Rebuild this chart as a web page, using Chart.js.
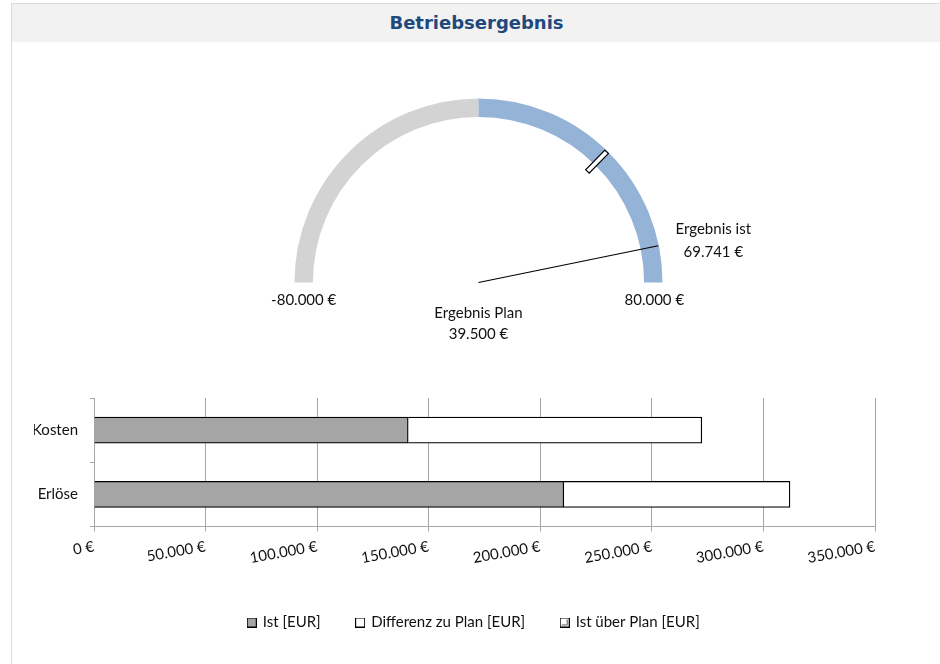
<!DOCTYPE html>
<html>
<head>
<meta charset="utf-8">
<script src="https://cdn.jsdelivr.net/npm/chart.js@4.4.1/dist/chart.umd.min.js"></script>
<style>
  html, body { margin: 0; padding: 0; background: #fff; width: 940px; height: 664px; overflow: hidden; }
  #frame { position: absolute; left: 11px; top: 3px; width: 929px; height: 661px; border-top: 1px solid #dcdcdc; border-left: 1px solid #dcdcdc; }
  #titleband { position: absolute; left: 0; top: 0; width: 929px; height: 38px; background: #f2f2f2;
    font-family: "DejaVu Sans", sans-serif; font-weight: bold; font-size: 18px; color: #1f497d;
    text-align: center; line-height: 38px; }
  #gaugeWrap { position: absolute; left: 0; top: 0; width: 940px; height: 380px; }
  #barWrap { position: absolute; left: 0; top: 380px; width: 940px; height: 284px; }
</style>
</head>
<body>
<div id="frame"><div id="titleband">Betriebsergebnis</div></div>
<div id="gaugeWrap"><canvas id="gauge" width="940" height="380"></canvas></div>
<div id="barWrap"><canvas id="bars" width="940" height="284"></canvas></div>
<script>
// ---------- data ----------
const gaugeMin = -80000;
const gaugeMax = 80000;
const gaugeSegmentLabels = ['Negativ', 'Positiv'];
const gaugeSegmentValues = [80000, 80000];
const ergebnisIst = 69741;
const ergebnisPlan = 39500;

const categories = ['Kosten', 'Erlöse'];
const istValues = [140800, 210541];
const diffValues = [131600, 101359];
const ueberPlanValues = [0, 0];
const xTickMin = 0;
const xTickMax = 350000;
const xTickStep = 50000;

const FONT = 'Lato, "Open Sans", sans-serif';
const TXT = '#111111';
const FS = 15;

function fmtEuro(n) {
  const s = Math.abs(Math.round(n)).toString().replace(/\B(?=(\d{3})+(?!\d))/g, '.');
  return (n < 0 ? '-' : '') + s + ' €';
}

Chart.defaults.font.family = FONT;
Chart.defaults.color = TXT;
Chart.defaults.animation = false;

// ---------- gauge ----------
const gaugePlugin = {
  id: 'gaugeMarks',
  afterDatasetsDraw(chart) {
    const meta = chart.getDatasetMeta(0);
    const first = meta.data[0], last = meta.data[meta.data.length - 1];
    const cx = first.x, cy = first.y;
    const rIn = first.innerRadius, rOut = first.outerRadius;
    const a0 = first.startAngle, a1 = last.endAngle;
    const ang = v => a0 + (v - gaugeMin) / (gaugeMax - gaugeMin) * (a1 - a0);
    const ctx = chart.ctx;
    ctx.save();
    // needle (Ist)
    const ai = ang(ergebnisIst);
    const ex = cx + Math.cos(ai) * (rOut - 0.5), ey = cy + Math.sin(ai) * (rOut - 0.5);
    ctx.strokeStyle = '#000';
    ctx.lineWidth = 1.2;
    ctx.beginPath();
    ctx.moveTo(cx, cy);
    ctx.lineTo(ex, ey);
    ctx.stroke();
    // plan marker
    const ap = ang(ergebnisPlan);
    ctx.translate(cx, cy);
    ctx.rotate(ap);
    ctx.fillStyle = '#fff';
    ctx.lineWidth = 1.2;
    ctx.beginPath();
    ctx.rect(rIn - 10, -2.5, (rOut - 1) - (rIn - 10), 5);
    ctx.fill();
    ctx.stroke();
    ctx.setTransform(1, 0, 0, 1, 0, 0);
    // labels
    ctx.fillStyle = TXT;
    ctx.font = FS + 'px ' + FONT;
    ctx.textAlign = 'center';
    ctx.textBaseline = 'middle';
    const mid = (rIn + rOut) / 2;
    ctx.fillText(fmtEuro(gaugeMin), cx - mid, cy + 18);
    ctx.fillText(fmtEuro(gaugeMax), cx + mid + 1, cy + 18);
    ctx.fillText('Ergebnis Plan', cx, cy + 31);
    ctx.fillText(fmtEuro(ergebnisPlan), cx, cy + 52);
    ctx.fillText('Ergebnis ist', ex + 55, ey - 17);
    ctx.fillText(fmtEuro(ergebnisIst), ex + 55, ey + 6);
    ctx.restore();
  }
};

new Chart(document.getElementById('gauge'), {
  type: 'doughnut',
  data: {
    labels: gaugeSegmentLabels,
    datasets: [{
      data: gaugeSegmentValues,
      backgroundColor: ['#d3d3d3', '#95b3d7'],
      borderWidth: 0
    }]
  },
  options: {
    responsive: false,
    rotation: -90,
    circumference: 180,
    cutout: '90%',
    layout: { padding: { left: 294.5, right: 277.5, top: 98.5, bottom: 97.5 } },
    plugins: { legend: { display: false }, tooltip: { enabled: false } }
  },
  plugins: [gaugePlugin]
});

// ---------- bars ----------
function legendIcon(kind) {
  const c = document.createElement('canvas');
  c.width = 10; c.height = 10;
  const g = c.getContext('2d');
  g.fillStyle = kind === 'ist' ? '#a5a5a5' : '#fff';
  g.fillRect(0.5, 0.5, 9, 9);
  g.strokeStyle = '#000';
  g.lineWidth = 1;
  g.strokeRect(0.5, 0.5, 9, 9);
  if (kind === 'ueber') {
    g.strokeStyle = '#555';
    g.beginPath();
    g.moveTo(2, 7.5); g.lineTo(7.5, 7.5); g.lineTo(7.5, 2);
    g.stroke();
  }
  return c;
}
const icons = [legendIcon('ist'), legendIcon('diff'), legendIcon('ueber')];

const xTickValues = [];
for (let v = xTickMin; v <= xTickMax; v += xTickStep) xTickValues.push(v);

const legendShift = {
  id: 'legendShift',
  afterLayout(chart) {
    const lg = chart.legend;
    if (lg) { lg.left = 0; lg.right = 948; lg.width = 948; }
  }
};

new Chart(document.getElementById('bars'), {
  type: 'bar',
  data: {
    labels: categories,
    datasets: [
      { label: 'Ist [EUR]', data: istValues, backgroundColor: '#a5a5a5', borderColor: '#000', borderWidth: 1.3, barThickness: 26, pointStyle: icons[0] },
      { label: 'Differenz zu Plan [EUR]', data: diffValues, backgroundColor: '#ffffff', borderColor: '#000', borderWidth: 1.3, barThickness: 26, pointStyle: icons[1] },
      { label: 'Ist über Plan [EUR]', data: ueberPlanValues, backgroundColor: '#ffffff', borderColor: '#000', borderWidth: 1.3, barThickness: 26, pointStyle: icons[2] }
    ]
  },
  options: {
    responsive: false,
    indexAxis: 'y',
    layout: { padding: { left: 34, right: 65, top: 18, bottom: 24 } },
    scales: {
      x: {
        stacked: true,
        min: xTickMin, max: xTickMax,
        afterBuildTicks: s => { s.ticks = xTickValues.map(v => ({ value: v })); },
        afterFit: s => { s.height = 52.5; },
        grid: { color: '#a6a6a6', lineWidth: 1, drawTicks: true, tickLength: 5, tickColor: '#a6a6a6' },
        border: { color: '#a6a6a6', width: 1 },
        ticks: {
          font: { size: FS }, color: TXT, minRotation: 10, maxRotation: 10, padding: 6,
          autoSkip: false,
          callback: v => fmtEuro(v)
        }
      },
      y: {
        stacked: true,
        afterFit: s => { s.width = 60; s.paddingTop = 0; s.paddingBottom = 0; },
        grid: { display: true, drawOnChartArea: false, drawTicks: true, tickLength: 4, offset: true, color: '#a6a6a6' },
        border: { color: '#a6a6a6', width: 1 },
        ticks: { font: { size: FS }, color: TXT, padding: 12 }
      }
    },
    plugins: {
      tooltip: { enabled: false },
      legend: {
        position: 'bottom',
        labels: {
          usePointStyle: true,
          pointStyleWidth: 7,
          boxWidth: 10, boxHeight: 10,
          padding: 36,
          font: { size: FS },
          color: TXT
        }
      }
    }
  },
  plugins: [legendShift]
});
</script>
</body>
</html>
